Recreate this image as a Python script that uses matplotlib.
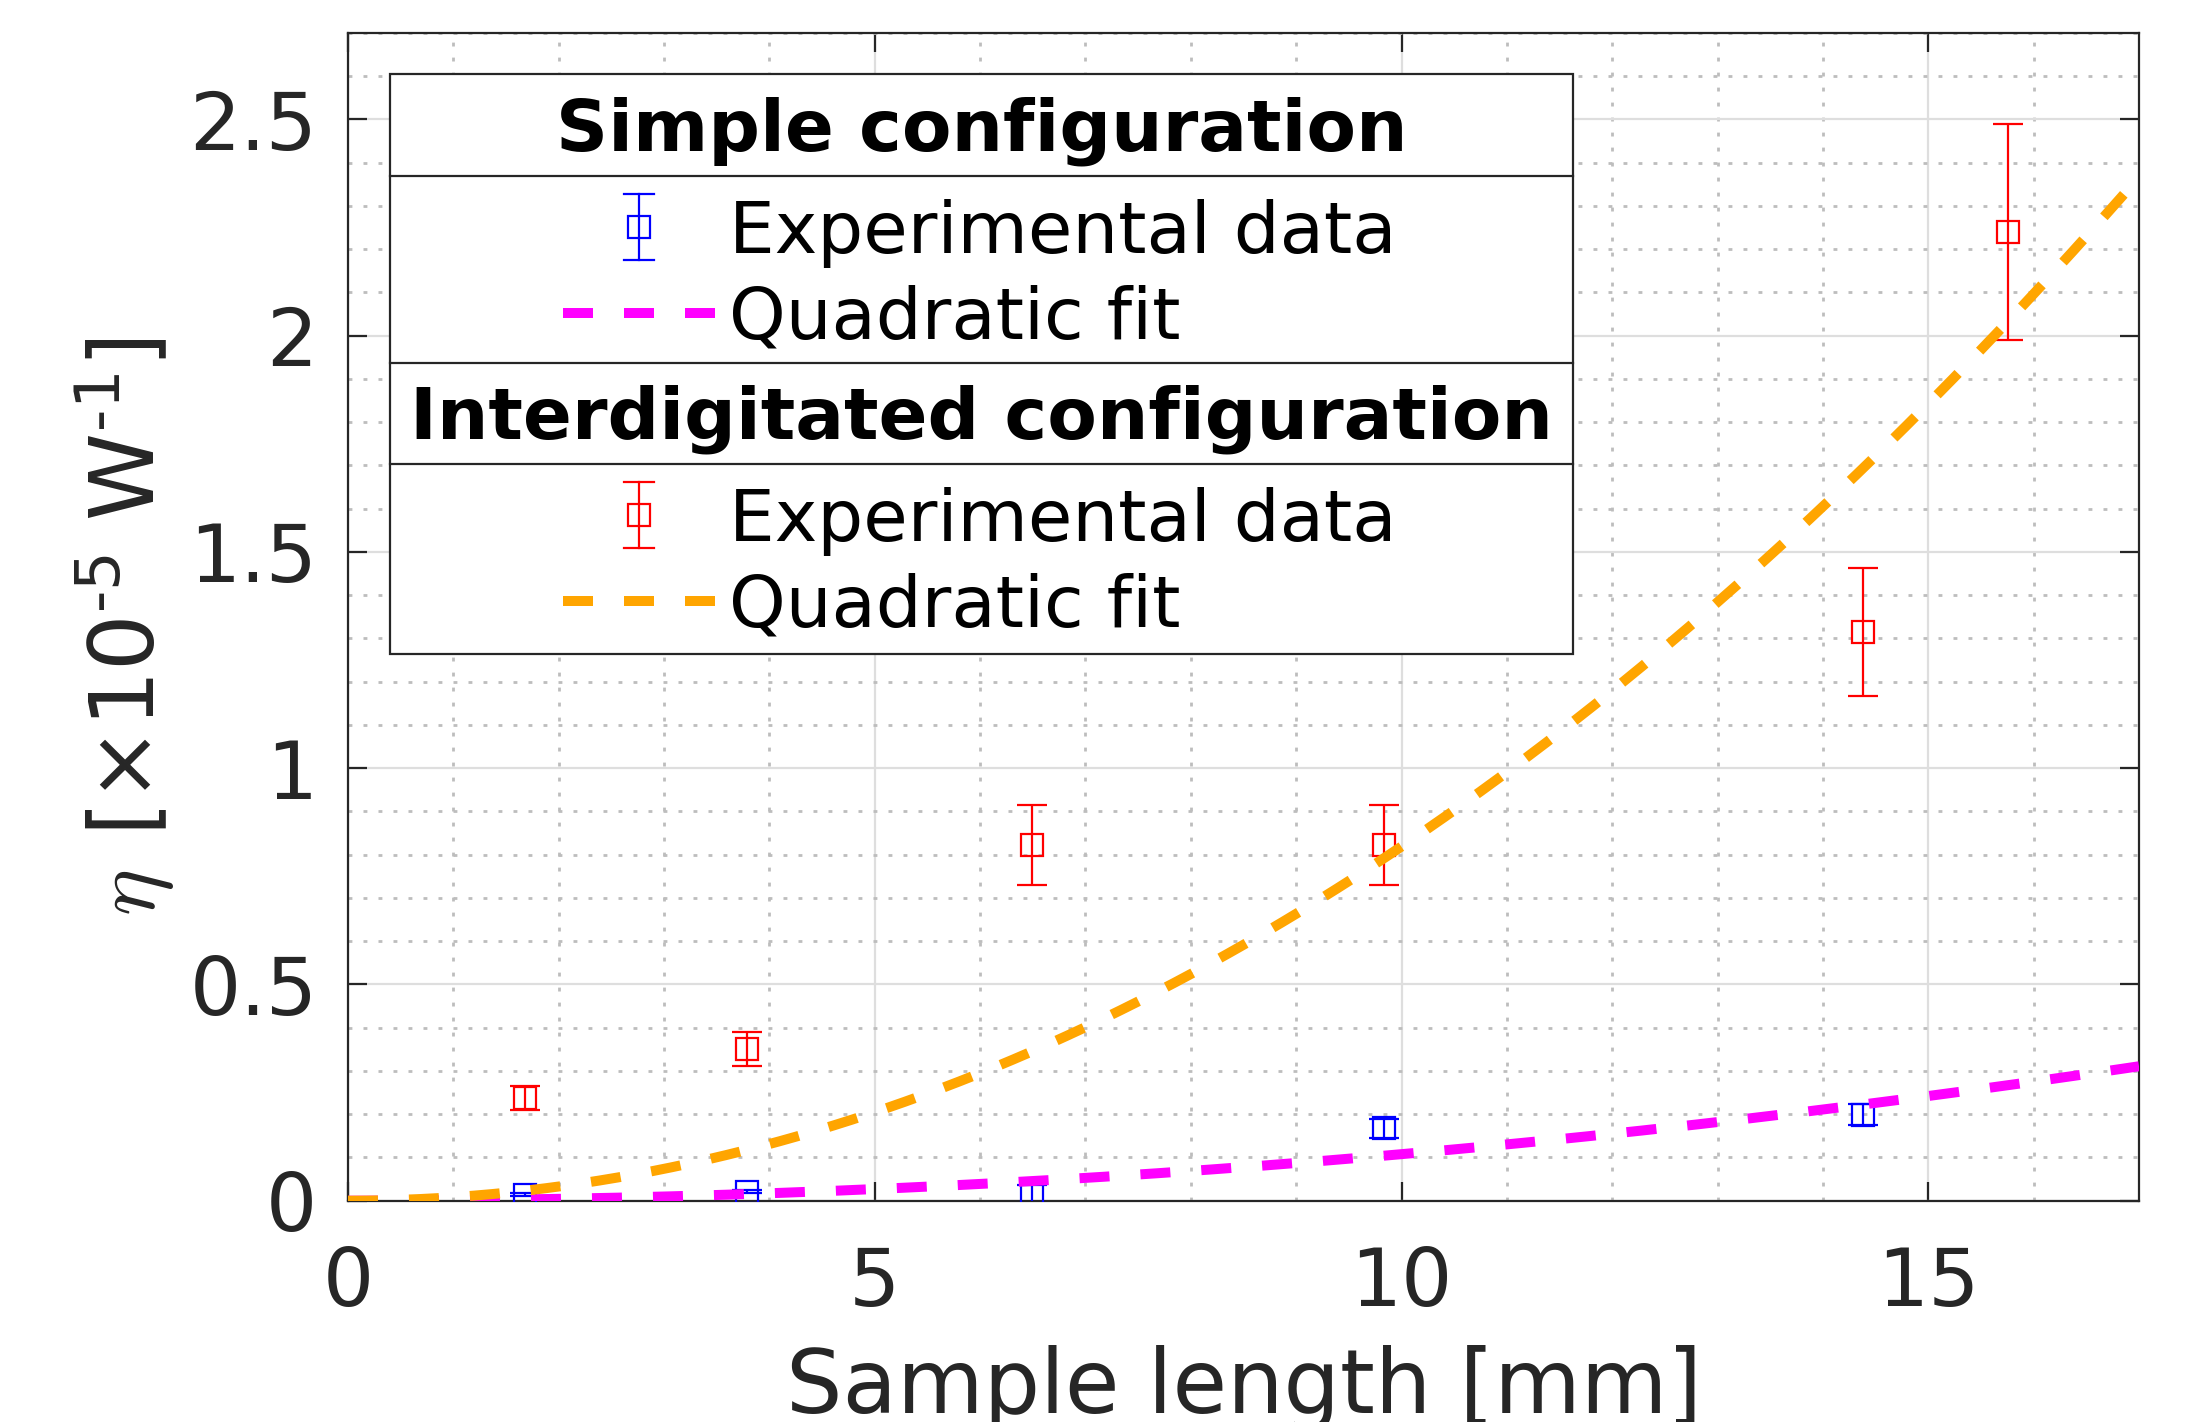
import numpy as np
import matplotlib
matplotlib.use("Agg")
import matplotlib.pyplot as plt
from matplotlib.lines import Line2D
from matplotlib.patches import Rectangle
from matplotlib.transforms import Affine2D
from matplotlib.ticker import MultipleLocator, FuncFormatter

# simple configuration (blue)
simple_len = [1.68, 3.79, 6.49, 9.83, 14.38]
simple_eta = [0.014, 0.021, 0.013, 0.167, 0.199]
simple_err = [0.003, 0.003, 0.023, 0.022, 0.024]

# interdigitated configuration (red)
inter_len = [1.68, 3.79, 6.49, 9.83, 14.38, 15.76]
inter_eta = [0.237, 0.351, 0.823, 0.823, 1.315, 2.240]
inter_err = [0.028, 0.039, 0.092, 0.092, 0.147, 0.250]

x_max = 17
y_max = 2.7

plt.rcParams["font.family"] = "DejaVu Sans"
plt.rcParams["mathtext.fontset"] = "cm"

W, H, dpi = 2193, 1422, 200
dark = "#262626"


def quad_fit(x, y):
    # least squares fit y = a*x^2 (through origin)
    x = np.asarray(x)
    y = np.asarray(y)
    return np.sum(y * x**2) / np.sum(x**4)


a_simple = quad_fit(simple_len, simple_eta)
a_inter = quad_fit(inter_len, inter_eta)
x_fit = np.linspace(0, x_max, 300)

fig = plt.figure(figsize=(W / dpi, H / dpi), dpi=dpi)
ax = fig.add_axes([348 / W, 1 - 1200.7 / H, (2139 - 348) / W, (1200.7 - 33) / H])

fit_style = dict(lw=3.6, ls=(0, (3, 3.1)))
eb_style = dict(fmt="s", mfc="none", ms=8, mew=0.8, elinewidth=0.8,
                capsize=5.4, capthick=0.8)

ax.errorbar(simple_len, simple_eta, yerr=simple_err, color="blue", zorder=3, **eb_style)
ax.plot(x_fit, a_simple * x_fit**2, color="magenta", zorder=4, **fit_style)
ax.errorbar(inter_len, inter_eta, yerr=inter_err, color="red", zorder=5, **eb_style)
ax.plot(x_fit, a_inter * x_fit**2, color="orange", zorder=6, **fit_style)

ax.set_xlim(0, x_max)
ax.set_ylim(0, y_max)
ax.xaxis.set_major_locator(MultipleLocator(5))
ax.xaxis.set_minor_locator(MultipleLocator(1))
ax.yaxis.set_major_locator(MultipleLocator(0.5))
ax.yaxis.set_minor_locator(MultipleLocator(0.1))
ax.yaxis.set_major_formatter(FuncFormatter(lambda v, p: f"{v:g}"))

ax.set_axisbelow(True)
ax.grid(which="major", color="#dedede", lw=0.8, ls="-")
ax.grid(which="minor", color="#bdbdbd", lw=1.0, ls=(0, (1.4, 4)))

ax.tick_params(which="major", direction="in", length=6.8, width=0.8,
               top=True, right=True, labelsize=29, colors=dark)
ax.tick_params(axis="y", pad=11)
ax.tick_params(axis="x", pad=16)
ax.tick_params(which="minor", length=0)
for s in ax.spines.values():
    s.set_color(dark)
    s.set_linewidth(0.8)

ax.set_xlabel("Sample length [mm]", fontsize=32, color=dark, labelpad=8)

# pixel coordinates of the figure (origin top left)
px = Affine2D().scale(1 / W, -1 / H).translate(0, 1) + fig.transFigure

# y label: TeX-style eta, the rest in the sans font
lab = dict(transform=px, rotation=90, rotation_mode="anchor", ha="left",
           va="baseline", fontsize=32, color=dark)
fig.text(155, 916, r"$\eta$", math_fontfamily="cm", **lab)
fig.text(155, 836, "[×10$^{‐5}$ W$^{‐1}$]", math_fontfamily="dejavusans", **lab)

# legend drawn by hand
box_l, box_r, box_t, box_b = 390, 1573, 74, 654
seps = [176, 363, 464]
fig.add_artist(Rectangle((box_l, box_t), box_r - box_l, box_b - box_t,
                         transform=px, facecolor="white", edgecolor=dark,
                         lw=0.8, zorder=10))
for yy in seps:
    fig.add_artist(Line2D([box_l, box_r], [yy, yy], transform=px,
                          color=dark, lw=0.8, zorder=11))

box_c = (box_l + box_r) / 2
titles = [("Simple configuration", 151), ("Interdigitated configuration", 439)]
for txt, yb in titles:
    fig.text(box_c, yb, txt, transform=px, ha="center", va="baseline",
             fontsize=26, fontweight="bold", color="black", zorder=12)

sections = [("blue", "magenta", 227), ("red", "orange", 515)]
for c_pt, c_fit, yc in sections:
    # errorbar key
    fig.add_artist(Line2D([639, 639], [yc - 33, yc + 33], transform=px,
                          color=c_pt, lw=0.8, zorder=12))
    for yy in (yc - 33, yc + 33):
        fig.add_artist(Line2D([624, 654], [yy, yy], transform=px,
                              color=c_pt, lw=0.8, zorder=12))
    fig.add_artist(Line2D([639], [yc], transform=px, marker="s", ms=8,
                          mfc="none", mec=c_pt, mew=0.8, zorder=12))
    fig.text(729, yc + 26, "Experimental data", transform=px, ha="left",
             va="baseline", fontsize=26, color="black", zorder=12)
    # fit key
    yf = yc + 86
    fig.add_artist(Line2D([563, 715], [yf, yf], transform=px, color=c_fit,
                          zorder=12, **fit_style))
    fig.text(729, yf + 26, "Quadratic fit", transform=px, ha="left",
             va="baseline", fontsize=26, color="black", zorder=12)

fig.savefig("out.png", dpi=dpi)
